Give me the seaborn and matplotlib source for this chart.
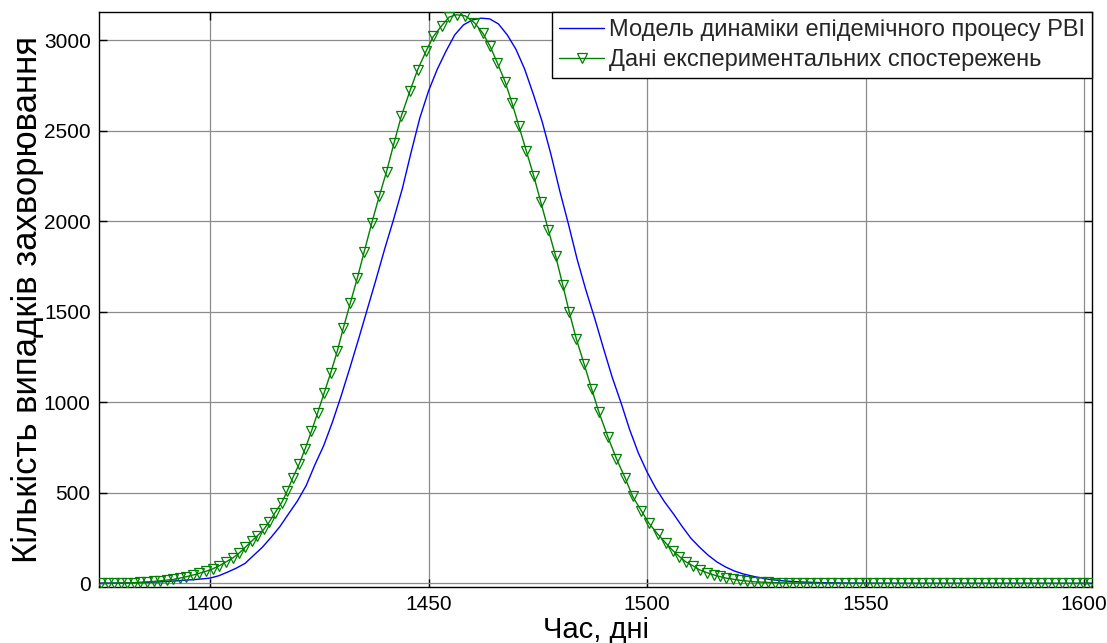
import numpy as np
import pandas as pd
import matplotlib
matplotlib.use("Agg")
import matplotlib.pyplot as plt
import seaborn as sns

# ---- data ----
model_days = [1375, 1380, 1385, 1390, 1394, 1397, 1400, 1402, 1404, 1406, 1408, 1410,
              1412, 1414, 1416, 1418, 1420, 1422, 1424, 1426, 1428, 1430, 1432, 1434,
              1436, 1438, 1440, 1442, 1444, 1446, 1448, 1450, 1452, 1454, 1456, 1458,
              1460, 1462, 1464, 1466, 1468, 1470, 1472, 1474, 1476, 1478, 1480, 1482,
              1484, 1486, 1488, 1490, 1492, 1494, 1496, 1498, 1500, 1502, 1504, 1506,
              1508, 1510, 1512, 1514, 1516, 1518, 1520, 1522, 1525, 1528, 1531, 1535,
              1540, 1545, 1550, 1560, 1580, 1602]
model_cases = [1, 2, 5, 10, 17, 22, 29, 42, 62, 84, 110, 155,
               200, 255, 314, 385, 455, 540, 655, 760, 890, 1035, 1190, 1350,
               1515, 1680, 1850, 2010, 2180, 2380, 2570, 2720, 2840, 2940, 3030, 3085,
               3112, 3122, 3118, 3090, 3030, 2950, 2840, 2700, 2550, 2370, 2170, 1985,
               1790, 1620, 1465, 1300, 1140, 1000, 850, 720, 615, 525, 450, 385,
               315, 250, 200, 155, 118, 90, 68, 52, 35, 22, 14, 8,
               4, 2, 1, 0, 0, 0]

obs_days = [1375.1, 1376.6, 1378.1, 1379.6, 1381.1, 1382.6, 1384.1, 1385.6, 1387.1, 1388.6,
            1390.1, 1391.6, 1393.1, 1394.6, 1396.1, 1397.6, 1399.1, 1400.6, 1402.1, 1403.6,
            1405.2, 1406.7, 1408.1, 1409.5, 1410.8, 1412.3, 1413.6, 1414.9, 1416.4, 1417.7,
            1418.9, 1420.4, 1421.8, 1423.2, 1424.6, 1426.1, 1427.6, 1429.1, 1430.5, 1432.1,
            1433.7, 1435.3, 1437.0, 1438.7, 1440.4, 1442.1, 1443.8, 1445.7, 1447.5, 1449.4,
            1451.1, 1453.0, 1454.7, 1456.4, 1458.4, 1460.5, 1462.4, 1464.1, 1465.7, 1467.5,
            1469.1, 1470.7, 1472.4, 1474.1, 1475.7, 1477.4, 1479.1, 1480.7, 1482.2, 1483.8,
            1485.6, 1487.3, 1489.0, 1491.0, 1493.0, 1495.0, 1496.7, 1498.7, 1500.4, 1502.4,
            1504.3, 1505.9, 1507.4, 1508.8, 1510.5, 1512.0, 1513.6, 1515.2, 1516.6, 1518.1,
            1519.7, 1521.3, 1522.9, 1524.5, 1526.1, 1527.7, 1529.3, 1530.9, 1532.5, 1534.1,
            1535.7, 1537.3, 1538.9, 1540.5, 1542.1, 1543.7, 1545.3, 1546.9, 1548.5, 1550.1,
            1551.7, 1553.3, 1554.9, 1556.5, 1558.1, 1559.7, 1561.3, 1562.9, 1564.5, 1566.1,
            1567.7, 1569.3, 1570.9, 1572.5, 1574.1, 1575.7, 1577.3, 1578.9, 1580.5, 1582.1,
            1583.7, 1585.3, 1586.9, 1588.5, 1590.1, 1591.7, 1593.3, 1594.9, 1596.5, 1598.1,
            1599.7, 1601.3]
obs_cases = [0, 0, 1, 2, 3, 4, 6, 8, 11, 14,
             18, 22, 29, 37, 46, 56, 67, 80, 97, 118,
             140, 168, 200, 232, 262, 298, 341, 391, 446, 511,
             581, 659, 745, 839, 940, 1051, 1161, 1281, 1410, 1548,
             1686, 1833, 1990, 2137, 2275, 2432, 2583, 2717, 2837, 2938,
             3021, 3080, 3128, 3141, 3135, 3097, 3040, 2966, 2877, 2772,
             2653, 2524, 2386, 2248, 2105, 1953, 1806, 1649, 1498, 1351,
             1211, 1075, 944, 811, 688, 581, 480, 401, 333, 273,
             222, 181, 148, 120, 97, 75, 60, 47, 38, 29,
             23, 17, 13, 9, 7, 5, 4, 3, 2, 2,
             1, 1, 1, 0, 0, 0, 0, 0, 0, 0,
             0, 0, 0, 0, 0, 0, 0, 0, 0, 0,
             0, 0, 0, 0, 0, 0, 0, 0, 0, 0,
             0, 0, 0, 0, 0, 0, 0, 0, 0, 0,
             0, 0]

model_label = "Модель динаміки епідемічного процесу РВІ"
obs_label = "Дані експериментальних спостережень"
x_label = "Час, дні"
y_label = "Кількість випадків захворювання"
x_ticks = [1400, 1450, 1500, 1550, 1600]
y_ticks = [0, 500, 1000, 1500, 2000, 2500, 3000]

# ---- style ----
sns.set_theme(style="white")
plt.rcParams['font.family'] = ['Liberation Sans', 'DejaVu Sans']

fig = plt.figure(figsize=(11.07, 6.43), dpi=100)
ax = fig.add_axes([0.0894, 0.0871, 0.8971, 0.8942])

model_df = pd.DataFrame({"day": model_days, "cases": model_cases})
obs_df = pd.DataFrame({"day": obs_days, "cases": obs_cases})

sns.lineplot(data=model_df, x="day", y="cases", ax=ax, color="#0000ff",
             linewidth=1.0, label=model_label, zorder=3)
sns.lineplot(data=obs_df, x="day", y="cases", ax=ax, color="#008000",
             linewidth=1.0, marker="v", markersize=7, markerfacecolor="none",
             markeredgecolor="#008000", markeredgewidth=0.9,
             label=obs_label, zorder=4)

ax.set_xlim(1374.6, 1601.8)
ax.set_ylim(-20, 3156)
ax.set_xticks(x_ticks)
ax.set_yticks(y_ticks)
ax.grid(True, color="#8c8c8c", linewidth=0.9)
ax.set_axisbelow(True)

for s in ax.spines.values():
    s.set_color("black")
    s.set_linewidth(1.0)
    s.set_visible(True)

ax.tick_params(axis="both", which="both", direction="in", length=6, width=1.0,
               top=True, right=True, bottom=True, left=True,
               labelsize=15, colors="black", pad=6)

ax.set_xlabel(x_label, fontsize=21, color="black", labelpad=1)
ax.set_ylabel(y_label, fontsize=25, color="black", labelpad=0)

leg = ax.legend(loc="upper right", fontsize=17, frameon=True, fancybox=False,
                borderaxespad=0.0, borderpad=0.3, handlelength=1.9,
                handletextpad=0.2, labelspacing=0.35)
leg.get_frame().set_edgecolor("black")
leg.get_frame().set_linewidth(1.0)
leg.get_frame().set_alpha(1.0)

fig.savefig("out.png", dpi=100)
